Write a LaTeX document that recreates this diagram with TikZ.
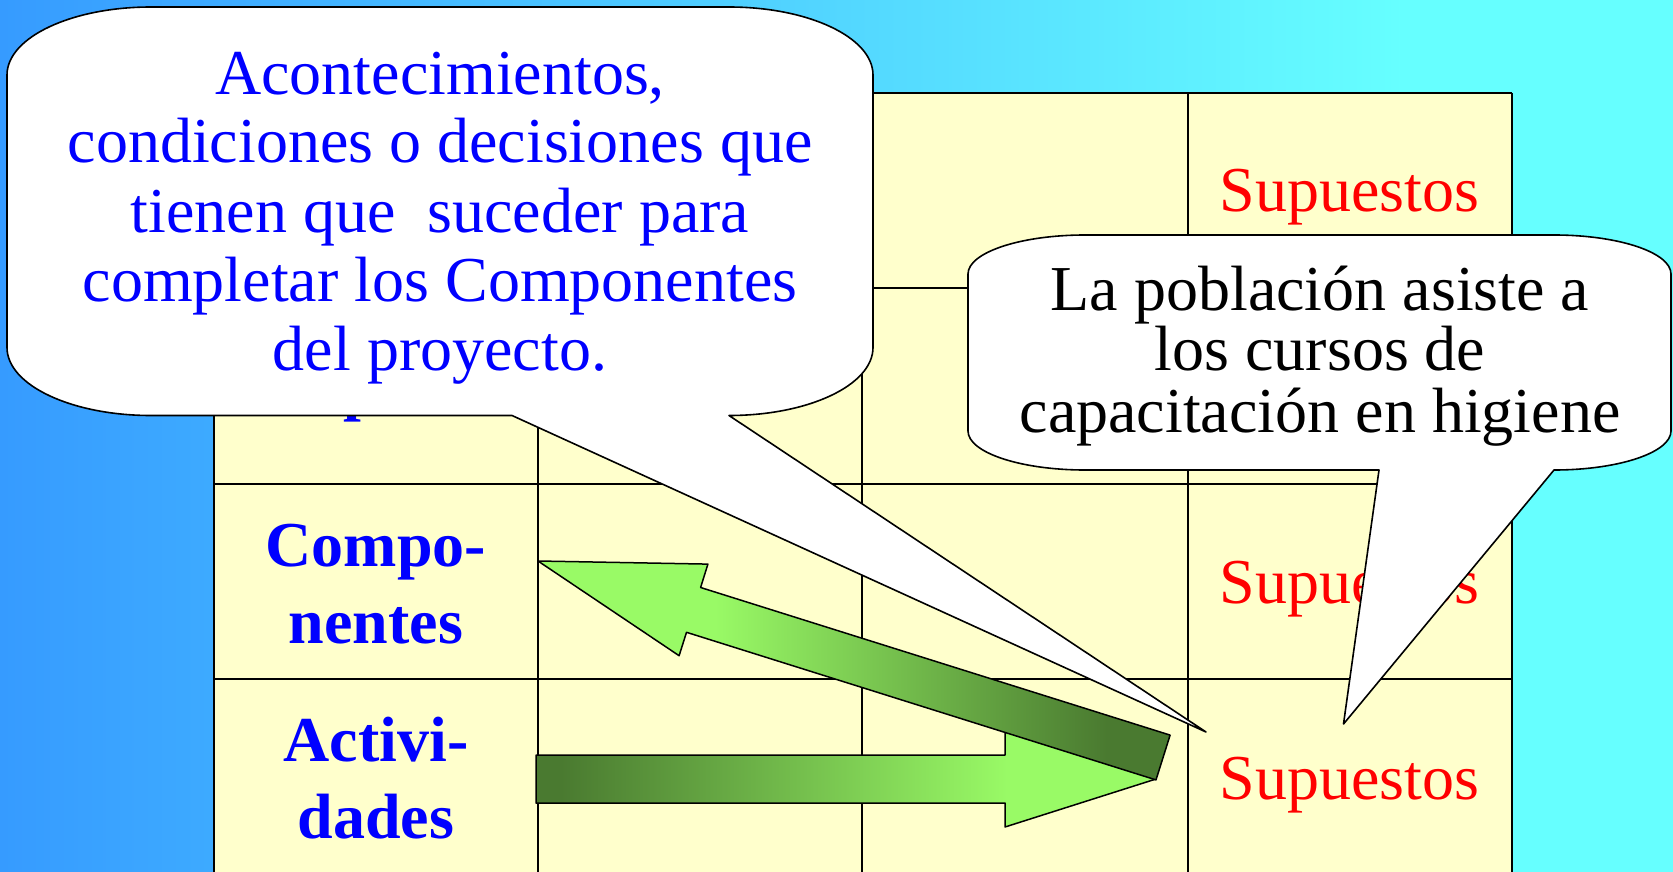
\documentclass[tikz,border=0pt]{standalone}
\usepackage{fontspec}
\setmainfont{Liberation Serif}
\definecolor{bgl}{RGB}{54,155,255}
\definecolor{bgr}{RGB}{102,255,255}
\definecolor{cell}{RGB}{255,255,204}
\definecolor{dkg}{RGB}{74,122,48}
\definecolor{ltg}{RGB}{153,250,102}
\definecolor{pblue}{RGB}{0,0,255}
\definecolor{pred}{RGB}{255,0,0}
\pgfdeclarehorizontalshading{bgshade}{100bp}{color(0bp)=(bgl); color(25bp)=(bgl); color(67bp)=(bgr); color(100bp)=(bgr)}
\pgfdeclarehorizontalshading{hshade}{100bp}{color(0bp)=(dkg); color(27bp)=(dkg); color(63bp)=(ltg); color(100bp)=(ltg)}
\pgfdeclarehorizontalshading{dshade}{100bp}{color(0bp)=(ltg); color(39bp)=(ltg); color(70bp)=(dkg); color(100bp)=(dkg)}
\begin{document}
\begin{tikzpicture}[x=1pt,y=-1pt,
  gridline/.style={line width=2pt,black},
  bigfont/.style={font=\fontsize{64}{64}\selectfont},
  suptxt/.style={bigfont,text=pred,anchor=base,inner sep=0pt},
  rowlbl/.style={font=\fontsize{64}{64}\selectfont\bfseries,text=pblue,anchor=base,inner sep=0pt},
  bluetxt/.style={bigfont,text=pblue,anchor=base,inner sep=0pt},
  blacktxt/.style={bigfont,text=black,anchor=base,inner sep=0pt},
  bubble/.style={fill=white,draw=black,line width=1.6pt,line join=round},
  blockarrow/.style={draw=black,line width=1.5pt,line join=round}]
\useasboundingbox (0,0) rectangle (1673,872);
\shade[shading=bgshade] (0,0) rectangle (1673,872);
% table
\fill[cell] (214,92.8) rectangle (1512,880);
\foreach \yy in {92.8,288,483.5,679} \draw[gridline] (214,\yy) -- (1512,\yy);
\foreach \xx in {214,538,862,1187.5,1512} \draw[gridline] (\xx,92.8) -- (\xx,880);
% table texts
\node[suptxt] (s1) at (1349.75,211.7) {Supuestos};
\node[suptxt] (s3) at (1349.75,603.3) {Supuestos};
\node[suptxt] (s4) at (1349.75,799.3) {Supuestos};
\node[rowlbl] (prop) at (376,408.5) {Propósito};
\node[rowlbl] (comp1) at (376,566.7) {Compo-};
\node[rowlbl] (comp2) at (376,643.3) {nentes};
\node[rowlbl] (act1) at (376,761) {Activi-};
\node[rowlbl] (act2) at (376,838.3) {dades};
% arrows
\shadedraw[shading=hshade,blockarrow] (536,755) -- (1005,755) -- (1005,731) -- (1156,779) -- (1005,827) -- (1005,803) -- (536,803) -- cycle;
\shadedraw[shading=dshade,blockarrow] (538,561) -- (707.9,564.1) -- (700.6,587.5) -- (1170.1,735.1) -- (1156.0,779.9) -- (686.5,632.3) -- (679.1,655.7) -- cycle;
% blue callout
\draw[bubble] (7,75) .. controls (7,37.4) and (71.5,7) .. (151,7)
  -- (729,7) .. controls (808.5,7) and (873,37.4) .. (873,75)
  -- (873,347.5) .. controls (873,385.1) and (808.5,415.5) .. (729,415.5)
  -- (1206,732) -- (512,415.5)
  -- (151,415.5) .. controls (71.5,415.5) and (7,385.1) .. (7,347.5) -- cycle;
% black callout
\draw[bubble] (968,274) .. controls (968,252.5) and (1020.4,235) .. (1085,235)
  -- (1554,235) .. controls (1618.6,235) and (1671,252.5) .. (1671,274)
  -- (1671,431) .. controls (1671,452.5) and (1618.6,470) .. (1554,470)
  -- (1343.5,724) -- (1379,470)
  -- (1085,470) .. controls (1020.4,470) and (968,452.5) .. (968,431) -- cycle;
% callout texts
\node[bluetxt] (b1) at (440,95) {Acontecimientos,};
\node[bluetxt] (b2) at (440,163) {condiciones o decisiones que};
\node[bluetxt] (b3) at (440,232) {tienen que\ \ suceder para};
\node[bluetxt] (b4) at (440,301.7) {completar los Componentes};
\node[bluetxt] (b5) at (440,370.7) {del proyecto.};
\node[blacktxt] (k1) at (1320,310) {La población asiste a};
\node[blacktxt] (k2) at (1320,370.7) {los cursos de};
\node[blacktxt] (k3) at (1320,432.7) {capacitación en higiene};
\end{tikzpicture}
\end{document}
